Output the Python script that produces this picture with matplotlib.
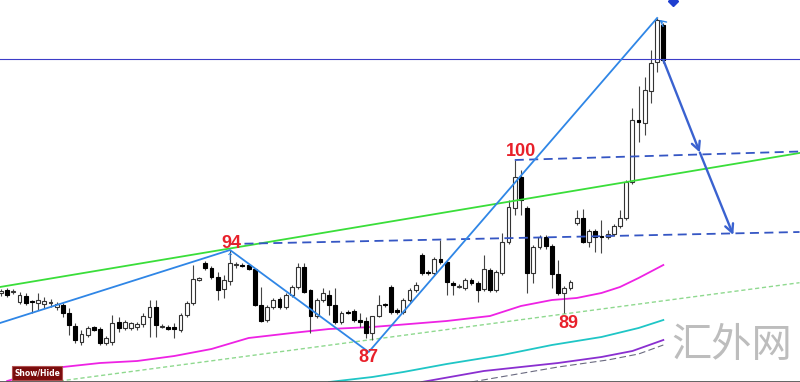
import numpy as np
import matplotlib.pyplot as plt
from matplotlib.patches import Rectangle

opens = [293, 290, 292, 302, 296, 301, 303, 304, 303, 307, 305, 313, 326, 342, 335, 327,
         329, 343, 342, 322, 328, 328, 327, 324, 317, 307, 327, 327, 327, 330, 315, 303,
         280, 263, 268, 277, 289, 281, 265, 265, 265, 269, 305, 320, 307, 299, 307, 295,
         287, 267, 290, 316, 300, 295, 305, 322, 312, 311, 320, 321, 333, 316, 304, 287,
         310, 312, 300, 290, 255, 272, 273, 259, 262, 283, 287, 288, 280, 283, 289, 270,
         290, 273, 242, 208, 177, 208, 273, 247, 237, 246, 274, 293, 288, 223, 218, 242,
         231, 236, 237, 234, 226, 218, 182, 120, 123, 91, 62, 25]
highs = [289, 288, 289, 292, 293, 300, 293, 297, 299, 302, 303, 308, 323, 330, 326, 326,
         327, 336, 315, 317, 320, 322, 322, 313, 300, 300, 324, 325, 323, 313, 301, 265,
         277, 261, 266, 272, 275, 250, 262, 263, 264, 268, 287, 305, 298, 297, 293, 285,
         263, 263, 289, 298, 288, 290, 288, 311, 310, 309, 313, 317, 316, 295, 303, 285,
         308, 298, 288, 282, 253, 270, 257, 240, 260, 281, 284, 278, 278, 281, 255, 268,
         270, 233, 200, 160, 170, 206, 245, 235, 235, 244, 260, 286, 280, 210, 209, 229,
         229, 220, 230, 224, 210, 180, 108, 86, 77, 50, 18, 23]
lows = [296, 297, 294, 304, 305, 313, 310, 308, 307, 310, 317, 335, 343, 345, 337, 331,
        345, 345, 345, 332, 330, 330, 330, 327, 337, 337, 328, 330, 338, 332, 317, 305,
        281, 270, 279, 300, 298, 285, 268, 267, 270, 306, 322, 322, 309, 309, 309, 297,
        289, 293, 333, 318, 302, 315, 324, 324, 314, 322, 327, 338, 340, 317, 307, 314,
        314, 314, 302, 292, 275, 275, 275, 264, 295, 295, 288, 290, 285, 302, 291, 292,
        292, 275, 244, 215, 215, 293, 283, 249, 249, 288, 295, 313, 290, 225, 243, 247,
        252, 253, 239, 236, 228, 220, 184, 142, 135, 103, 72, 63]
closes = [291, 295, 291, 295, 303, 302, 300, 301, 302, 304, 313, 325, 340, 334, 328, 330,
          343, 338, 323, 328, 322, 323, 324, 316, 307, 325, 326, 329, 329, 315, 303, 279,
          278, 268, 277, 290, 280, 263, 264, 266, 269, 305, 321, 307, 300, 307, 295, 287,
          267, 292, 316, 300, 293, 305, 322, 313, 313, 320, 322, 333, 316, 305, 305, 312,
          312, 300, 290, 285, 273, 273, 259, 262, 282, 285, 286, 280, 283, 290, 269, 290,
          272, 242, 207, 177, 200, 273, 247, 237, 246, 274, 293, 288, 282, 218, 242, 231,
          237, 237, 234, 226, 218, 182, 120, 122, 90, 63, 20, 60]

# moving averages (bar index, level)
ma_magenta_idx = [1, 6, 10, 16, 22, 28, 34, 40, 47, 53, 60, 66, 72, 79, 84, 89, 93, 97, 100, 103, 107]
ma_magenta = [381, 372, 367, 363, 361, 356, 349, 338, 333, 329, 327, 324, 321, 316, 306, 300, 298, 293, 287, 278, 265]
ma_cyan_idx = [53, 60, 65, 72, 81, 89, 97, 103, 107]
ma_cyan = [382, 377, 372, 364, 355, 345, 337, 328, 320]
ma_purple_idx = [68, 78, 84, 90, 97, 102, 107]
ma_purple = [382, 371, 367, 363, 357, 351, 340]
ma_gray_idx = [76, 90, 98, 103, 107]
ma_gray = [382, 367, 360, 354, 345]

# drawn objects (bar index, level)
zigzag_idx = [-0.16, 37, 59.4, 106]
zigzag = [323, 250, 352, 18]
green_idx = [-0.16, 129]
green = [287, 153]
lgreen_idx = [9.5, 129]
lgreen = [381, 282.7]
dash94_idx = [37, 129]
dash94 = [244, 232]
dash100_idx = [83, 129]
dash100 = [160, 151.5]
hline_level = 59
proj_idx = [107, 112.9, 118.3]
proj = [60, 152.5, 235]

swing_labels = ["94", "100", "87", "89"]
swing_idx = [37.2, 84, 59.3, 91.6]
swing_lvl = [243, 151, 357, 323]

n = len(opens)
x = np.arange(n)
o = np.array(opens, dtype=float)
c = np.array(closes, dtype=float)
up = c <= o

fig = plt.figure(figsize=(8, 3.82), dpi=100)
ax = fig.add_axes([0, 0, 1, 1])
ax.set_xlim(-0.16, 129.08)
ax.set_ylim(382, 0)
ax.set_xticks([])
ax.set_yticks([])
for s in ["top", "left", "right"]:
    ax.spines[s].set_visible(False)
ax.spines["bottom"].set_color("#555555")
ax.spines["bottom"].set_linewidth(2)

# moving averages
ax.plot(ma_magenta_idx, ma_magenta, color="#ee22e4", lw=1.3, zorder=2)
ax.plot(ma_cyan_idx, ma_cyan, color="#1fc6c6", lw=1.3, zorder=2)
ax.plot(ma_purple_idx, ma_purple, color="#8a2fd0", lw=1.3, zorder=2)
ax.plot(ma_gray_idx, ma_gray, color="#6a6a80", lw=0.8, dashes=(6, 3), zorder=2)
ax.plot(lgreen_idx, lgreen, color="#8fd98f", lw=1.0, dashes=(3, 2), zorder=2)

# candles
ax.vlines(x, highs, lows, color="#444444", lw=0.8, zorder=3)
height = np.where(np.abs(c - o) < 1, 1, c - o)
ax.bar(x[up], height[up], bottom=o[up], width=0.62, color="white",
       edgecolor="#333333", linewidth=0.8, zorder=4)
ax.bar(x[~up], height[~up], bottom=o[~up], width=0.62, color="black",
       edgecolor="black", linewidth=0.8, zorder=4)

# trend lines
ax.axhline(hline_level, color="#3d3dc8", lw=0.8, zorder=5)
ax.plot(green_idx, green, color="#3ade3a", lw=1.3, zorder=5)
ax.plot(dash94_idx, dash94, color="#3556c4", lw=1.3, dashes=(5, 3), zorder=5)
ax.plot(dash100_idx, dash100, color="#3556c4", lw=1.3, dashes=(5, 3), zorder=5)
ax.plot(zigzag_idx, zigzag, color="#2f86e6", lw=1.3, zorder=6)
ax.annotate("", xy=(zigzag_idx[-1], zigzag[-1]), xytext=(zigzag_idx[-1] + 1.2, zigzag[-1] + 6),
            arrowprops=dict(arrowstyle="->", color="#2f86e6", lw=1.0), zorder=6)
ax.text(37, 257, "↑", color="#2f86e6", fontsize=7, ha="center", va="center", zorder=6)

for k in range(len(proj) - 1):
    ax.annotate("", xy=(proj_idx[k + 1], proj[k + 1]), xytext=(proj_idx[k], proj[k]),
                arrowprops=dict(arrowstyle="->,head_length=0.6,head_width=0.3",
                                color="#3a62d0", lw=1.7, shrinkA=0, shrinkB=0), zorder=6)
ax.plot([108.6], [1], marker="D", color="#1f3fd0", ms=5, zorder=6, clip_on=True)

for lab, xi, yi in zip(swing_labels, swing_idx, swing_lvl):
    ax.text(xi, yi, lab, color="#e8202a", fontsize=13, fontweight="bold",
            family="Liberation Sans", ha="center", va="center", zorder=7)

# watermark and button
fig.text(0.914, 0.095, "汇外网", color="#bdbdbd", fontsize=29,
         family=["Noto Sans CJK SC", "DejaVu Sans"], fontweight="light",
         ha="center", va="center")
fig.patches.append(Rectangle((0.015, 0.005), 0.0625, 0.038, transform=fig.transFigure,
                             facecolor="#7a0c0c", edgecolor="#b05050", lw=0.8))
fig.text(0.0465, 0.024, "Show/Hide", color="white", fontsize=5.5, fontweight="bold",
         ha="center", va="center")

fig.savefig("out.png", dpi=100)
